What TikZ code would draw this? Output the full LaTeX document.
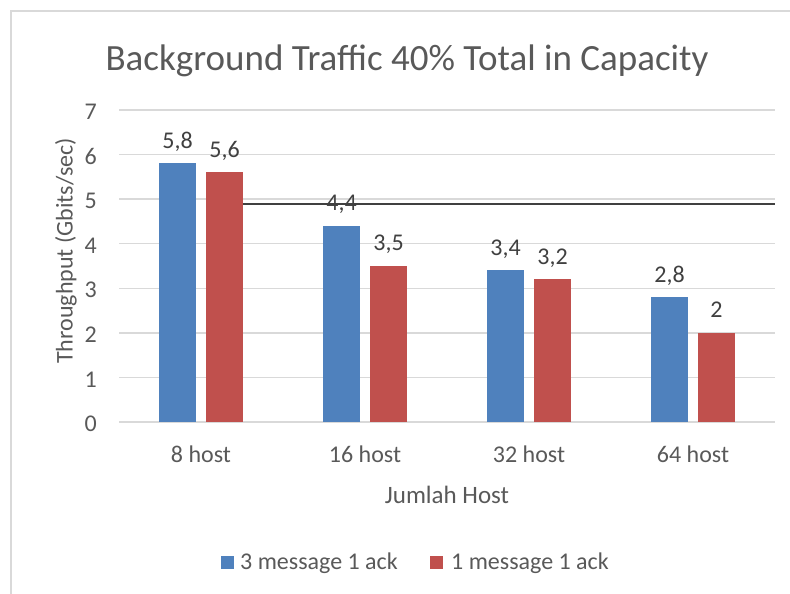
\documentclass[tikz,border=0pt]{standalone}
\usepackage{fontspec}
\setmainfont{Carlito}
\definecolor{barblue}{RGB}{79, 129, 189}
\definecolor{barred}{RGB}{192, 80, 77}
\definecolor{gridgray}{RGB}{217, 217, 217}
\definecolor{textgray}{RGB}{89, 89, 89}
\definecolor{darkline}{RGB}{64, 64, 64}
\usetikzlibrary{positioning}

\begin{document}
\begin{tikzpicture}[x=1pt, y=1pt,
  lab/.style={font=\fontsize{24}{28}\selectfont, text=textgray, inner sep=0pt},
  vallab/.style={lab, anchor=base, text=darkline, yshift=15pt},
  gridline/.style={gridgray, line width=1.5pt}]
  \useasboundingbox (0,0) rectangle (790,594);

  % Chart frame
  \draw[gridgray, line width=2pt] (11,0) -- (11,583) -- (790,583);

  % Title
  \node[lab, font=\fontsize{37}{44}\selectfont, anchor=base] (title) at (407,523) {Background Traffic 40\% Total in Capacity};

  \begin{scope}[shift={(0,172)}, y=44.57pt]
    % Grid and Y labels
    \foreach \v in {0,...,7} {
      \draw[gridline] (119,\v) -- (775,\v);
      \node[lab, anchor=east, yshift=-2pt] (tick\v) at (97,\v) {\v};
    }

    % Bars
    \foreach \i/\cat/\a/\b/\la/\lb in {0/8 host/5.8/5.6/{5,8}/{5,6}, 1/16 host/4.4/3.5/{4,4}/{3,5}, 2/32 host/3.4/3.2/{3,4}/{3,2}, 3/64 host/2.8/2/{2,8}/2} {
      \pgfmathsetmacro\cx{201+164*\i}
      \fill[barblue] (\cx-42,0) rectangle (\cx-5,\a);
      \fill[barred] (\cx+5,0) rectangle (\cx+42,\b);
      \node[vallab] (va\i) at (\cx-23.5,\a) {\la};
      \node[vallab] (vb\i) at (\cx+23.5,\b) {\lb};
      \node[lab, anchor=base, yshift=-41pt] (cat\i) at (\cx,0) {\cat};
    }

    % Reference line
    \draw[darkline, line width=2pt] (243,4.89) -- (775,4.89);
  \end{scope}

  % Axis titles
  \node[lab, rotate=90] (ytitle) at (66,343) {Throughput (Gbits/sec)};
  \node[lab, font=\fontsize{25}{30}\selectfont, anchor=base] (xtitle) at (447,90) {Jumlah Host};

  % Legend
  \node[fill=barblue, minimum size=13pt, inner sep=0pt] (keyA) at (227,31) {};
  \node[lab, anchor=base west] (legA) at (240,24) {3 message 1 ack};
  \node[fill=barred, minimum size=13pt, inner sep=0pt] (keyB) at (436.5,31) {};
  \node[lab, anchor=base west] (legB) at (451,24) {1 message 1 ack};
\end{tikzpicture}
\end{document}
